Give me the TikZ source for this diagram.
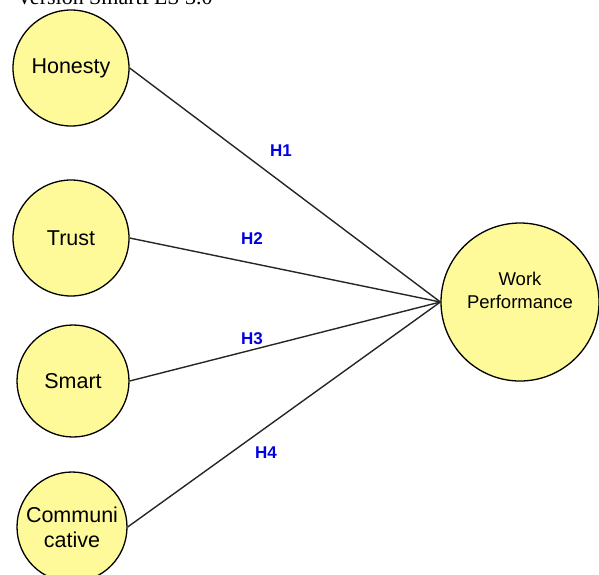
\documentclass[tikz,border=0pt]{standalone}
\usepackage{fontspec}
\setmainfont{Liberation Sans}
\newfontfamily\serifv{Liberation Serif}
\begin{document}
\begin{tikzpicture}[x=1pt,y=-1pt,
  construct/.style={circle,draw=black,line width=1.3pt,fill=yellow!40!white,inner sep=0pt,align=center,font=\fontsize{21.5}{25}\selectfont},
  link/.style={draw=black!85,line width=1.4pt},
  hyp/.style={text=blue!90!black,font=\bfseries\fontsize{17}{19}\selectfont}]
\clip (0,0) rectangle (599,574);
\useasboundingbox (0,0) rectangle (599,574);
\node[anchor=base west,font=\serifv\fontsize{22}{25}\selectfont] (title) at (13,4) {Version SmartPLS 3.0};
\node[construct,minimum size=116pt] (hon) at (71,68) {\raisebox{-2pt}{Honesty}};
\node[construct,minimum size=116pt] (tru) at (71,238) {Trust};
\node[construct,minimum size=112pt] (sma) at (73,381) {Smart};
\node[construct,minimum size=110pt] (com) at (72,527) {Communi\\cative};
\node[construct,minimum size=158pt] (wp) at (520,302) {};
\node[align=center,font=\fontsize{18.5}{23}\selectfont] (wpt) at (520,290) {Work\\Performance};
\coordinate (in) at (wp.west);
\draw[link] (hon.east) -- (in);
\draw[link] (tru.east) -- (in);
\draw[link] (sma.east) -- (in);
\draw[link] (com.east) -- (in);
\node[hyp] (h1) at (281,151) {H1};
\node[hyp] (h2) at (252,239) {H2};
\node[hyp] (h3) at (252,339) {H3};
\node[hyp] (h4) at (266,453) {H4};
\end{tikzpicture}
\end{document}
